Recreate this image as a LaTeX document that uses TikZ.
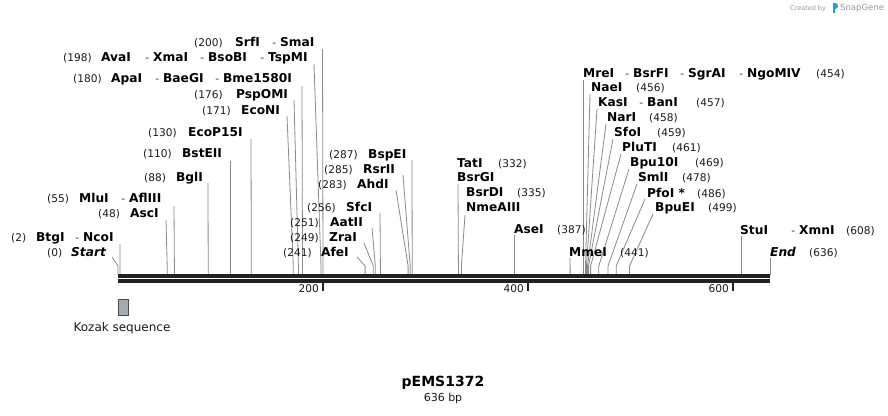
\documentclass[tikz,border=0pt]{standalone}
\usepackage{fontspec}
\setmainfont{DejaVu Sans}
\definecolor{bbcol}{HTML}{222222}
\definecolor{cutcol}{HTML}{8A8A8A}
\definecolor{numcol}{HTML}{1A1A1A}
\definecolor{kozfill}{HTML}{A7AAB1}
\definecolor{kozdraw}{HTML}{4A4A4A}
\definecolor{sgray}{HTML}{9A9A9A}
\definecolor{sblue}{HTML}{2E9BD6}
\newcommand\lname[4]{\node[enz,anchor=base west] (#1) at (#2,#3) {#4};}
\newcommand\lnum[4]{\node[num,anchor=base west] (#1) at (#2,#3) {#4};}
\newcommand\ldash[3]{\node[sep,anchor=base east] (#1) at (#2-3.5,#3) {-};}
\newcommand\lcut[4]{%
  \coordinate (#1t) at (#2,#3);
  \coordinate (#1k) at (#4,266);
  \coordinate (#1s) at (#4,274.5);
  \draw[cutline] (#1t) -- (#1k) -- (#1s);}
\begin{document}
\begin{tikzpicture}[x=1pt,y=-1pt,
  enz/.style={inner sep=0pt,font=\bfseries\fontsize{12.2}{14}\selectfont,text=black},
  num/.style={inner sep=0pt,font=\fontsize{10.6}{12}\selectfont,text=numcol},
  sep/.style={inner sep=0pt,font=\fontsize{10.6}{12}\selectfont,text=black!80},
  cutline/.style={draw=cutcol,line width=0.8pt},
  backbone/.style={draw=bbcol,line width=3.3pt},
  tick/.style={draw=bbcol,line width=1.8pt},
  ticklab/.style={inner sep=0pt,font=\fontsize{10.6}{12}\selectfont,text=numcol,anchor=base east}]
\useasboundingbox (0,0) rectangle (888,415);
\fill[white] (0,0) rectangle (888,415);

% ---- cut site connectors ----
\lcut{cStart}{112}{257}{118}
\lcut{cBtg}{120}{244}{120.05}
\lcut{cAsc}{166}{220}{167.2}
\lcut{cMlu}{174}{206}{174.4}
\lcut{cBgl}{208}{183}{208.2}
\lcut{cBst}{230.8}{161}{230.8}
\lcut{cEcoP}{251}{139}{251.3}
\lcut{cEcoN}{287}{116}{293.3}
\lcut{cPsp}{294}{100}{298.4}
\lcut{cApa}{302}{86}{302.5}
\lcut{cAva}{314}{64}{321.0}
\lcut{cSrf}{322.5}{49}{323.0}
\lcut{cAfe}{357}{257}{365.1}
\lcut{cZra}{364}{243}{373.3}
\lcut{cAat}{372}{228}{375.3}
\lcut{cSfc}{380}{213}{380.4}
\lcut{cAhd}{396}{190}{408.1}
\lcut{cRsr}{403}{175}{410.2}
\lcut{cBsp}{412}{160}{412.2}
\lcut{cTat}{458}{184}{458.4}
\lcut{cBsrD}{465}{215}{461.4}
\lcut{cAse}{514.7}{235}{514.7}
\lcut{cMme}{570}{258}{570.1}
\lcut{cMre}{583.4}{80}{583.4}
\lcut{cNae}{590}{94}{585.5}
\lcut{cKas}{597}{109}{586.5}
\lcut{cNar}{606}{124}{587.5}
\lcut{cSfo}{613}{139}{588.5}
\lcut{cPlu}{621}{154}{590.6}
\lcut{cBpu}{629}{169}{598.8}
\lcut{cSml}{637}{184}{608.0}
\lcut{cPfo}{645}{199}{616.2}
\lcut{cBpuE}{653}{214}{629.5}
\lcut{cStu}{741.3}{236}{741.3}
\lcut{cEnd}{770}{258}{770}

% ---- backbone ----
\coordinate (bbL1) at (118,276);
\coordinate (bbR1) at (770,276);
\coordinate (bbL2) at (118,281);
\coordinate (bbR2) at (770,281);
\draw[backbone] (bbL1) -- (bbR1);
\draw[backbone] (bbL2) -- (bbR2);

% ---- ticks ----
\coordinate (t200a) at (323,283); \coordinate (t200b) at (323,291);
\coordinate (t400a) at (528,283); \coordinate (t400b) at (528,291);
\coordinate (t600a) at (733,283); \coordinate (t600b) at (733,291);
\draw[tick] (t200a) -- (t200b);
\draw[tick] (t400a) -- (t400b);
\draw[tick] (t600a) -- (t600b);
\node[ticklab] (l200) at (319,292.5) {200};
\node[ticklab] (l400) at (524,292.5) {400};
\node[ticklab] (l600) at (729,292.5) {600};

% ---- left labels ----
\lnum{n0}{47}{256}{(0)}
\node[enz,anchor=base west] (start) at (71,256) {\itshape Start};
\lnum{n2}{11}{241}{(2)}
\lname{btg}{36}{241}{BtgI}
\ldash{d2}{83}{241}
\lname{nco}{83}{241}{NcoI}
\lnum{n48}{98}{217}{(48)}
\lname{asc}{130}{217}{AscI}
\lnum{n55}{47}{202}{(55)}
\lname{mlu}{79}{202}{MluI}
\ldash{d55}{129}{202}
\lname{afl}{129}{202}{AflIII}
\lnum{n88}{144}{181}{(88)}
\lname{bgl}{176}{181}{BglI}
\lnum{n110}{143}{157}{(110)}
\lname{bst}{182}{157}{BstEII}
\lnum{n130}{148}{136}{(130)}
\lname{ecop}{188}{136}{EcoP15I}
\lnum{n171}{202}{114}{(171)}
\lname{econ}{241}{114}{EcoNI}
\lnum{n176}{194}{98}{(176)}
\lname{psp}{236}{98}{PspOMI}
\lnum{n180}{73}{82}{(180)}
\lname{apa}{111}{82}{ApaI}
\ldash{d180a}{163}{82}
\lname{bae}{163}{82}{BaeGI}
\ldash{d180b}{223}{82}
\lname{bme}{223}{82}{Bme1580I}
\lnum{n198}{63}{61}{(198)}
\lname{ava}{101}{61}{AvaI}
\ldash{d198a}{153}{61}
\lname{xma}{153}{61}{XmaI}
\ldash{d198b}{208}{61}
\lname{bso}{208}{61}{BsoBI}
\ldash{d198c}{268}{61}
\lname{tsp}{268}{61}{TspMI}
\lnum{n200}{194}{46}{(200)}
\lname{srf}{235}{46}{SrfI}
\ldash{d200}{280}{46}
\lname{sma}{280}{46}{SmaI}

% ---- middle labels ----
\lnum{n241}{283}{256}{(241)}
\lname{afe}{321}{256}{AfeI}
\lnum{n249}{290}{241}{(249)}
\lname{zra}{329}{241}{ZraI}
\lnum{n251}{290}{226}{(251)}
\lname{aat}{330}{226}{AatII}
\lnum{n256}{307}{211}{(256)}
\lname{sfc}{346}{211}{SfcI}
\lnum{n283}{318}{188}{(283)}
\lname{ahd}{357}{188}{AhdI}
\lnum{n285}{324}{173}{(285)}
\lname{rsr}{363}{173}{RsrII}
\lnum{n287}{329}{158}{(287)}
\lname{bsp}{368}{158}{BspEI}

% ---- right labels ----
\lname{tat}{457}{167}{TatI}
\lnum{n332}{498}{167}{(332)}
\lname{bsrg}{457}{181}{BsrGI}
\lname{bsrd}{466}{196}{BsrDI}
\lnum{n335}{517}{196}{(335)}
\lname{nme}{466}{211}{NmeAIII}
\lname{ase}{514}{233}{AseI}
\lnum{n387}{557}{233}{(387)}
\lname{mme}{569}{256}{MmeI}
\lnum{n441}{620}{256}{(441)}
\lname{mre}{583}{77}{MreI}
\ldash{d454a}{633}{77}
\lname{bsrf}{633}{77}{BsrFI}
\ldash{d454b}{688}{77}
\lname{sgr}{688}{77}{SgrAI}
\ldash{d454c}{747}{77}
\lname{ngo}{747}{77}{NgoMIV}
\lnum{n454}{816}{77}{(454)}
\lname{nae}{591}{91}{NaeI}
\lnum{n456}{636}{91}{(456)}
\lname{kas}{598}{106}{KasI}
\ldash{d457}{647}{106}
\lname{ban}{647}{106}{BanI}
\lnum{n457}{696}{106}{(457)}
\lname{nar}{607}{121}{NarI}
\lnum{n458}{649}{121}{(458)}
\lname{sfo}{614}{136}{SfoI}
\lnum{n459}{657}{136}{(459)}
\lname{plu}{622}{151}{PluTI}
\lnum{n461}{672}{151}{(461)}
\lname{bpu}{630}{166}{Bpu10I}
\lnum{n469}{695}{166}{(469)}
\lname{sml}{638}{181}{SmlI}
\lnum{n478}{682}{181}{(478)}
\lname{pfo}{647}{197}{PfoI *}
\lnum{n486}{697}{197}{(486)}
\lname{bpue}{655}{211}{BpuEI}
\lnum{n499}{708}{211}{(499)}
\lname{stu}{740}{234}{StuI}
\ldash{d608}{799}{234}
\lname{xmn}{799}{234}{XmnI}
\lnum{n608}{846}{234}{(608)}
\node[enz,anchor=base west] (endl) at (770,256) {\itshape End};
\lnum{n636}{809}{256}{(636)}

% ---- feature ----
\node[draw=kozdraw,fill=kozfill,line width=0.8pt,minimum width=10pt,minimum height=16pt,inner sep=0pt,anchor=north west] (kozak) at (118,299) {};
\node[inner sep=0pt,font=\fontsize{12}{14}\selectfont,text=numcol] (kozlab) at (122,328) {Kozak sequence};

% ---- title ----
\node[inner sep=0pt,font=\bfseries\fontsize{14}{16}\selectfont] (title) at (443,383) {pEMS1372};
\node[inner sep=0pt,font=\fontsize{11}{13}\selectfont,text=numcol] (bp) at (443,398.5) {636 bp};

% ---- credit ----
\node[inner sep=0pt,anchor=base west,font=\fontsize{6.5}{8}\selectfont,text=sgray] (created) at (790,10) {Created by};
\fill[sblue] (832.5,3) rectangle (834.5,13);
\fill[sblue] (834.5,3) .. controls (838.5,3) and (838.5,9) .. (834.5,9) -- cycle;
\node[inner sep=0pt,anchor=base west,font=\fontsize{8.5}{10}\selectfont,text=sgray] (snapgene) at (840,10.5) {SnapGene};
\end{tikzpicture}
\end{document}
